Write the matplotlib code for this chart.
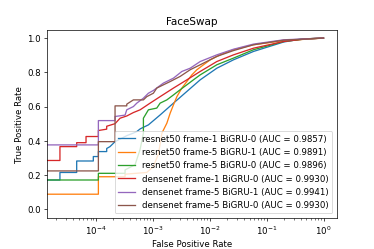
import matplotlib
matplotlib.use('Agg')
import matplotlib.pyplot as plt

# ROC points (fpr, tpr), step corners included
labels = [
    'resnet50 frame-1 BiGRU-0 (AUC = 0.9857)',
    'resnet50 frame-5 BiGRU-1 (AUC = 0.9891)',
    'resnet50 frame-5 BiGRU-0 (AUC = 0.9896)',
    'densenet frame-1 BiGRU-0 (AUC = 0.9930)',
    'densenet frame-5 BiGRU-1 (AUC = 0.9941)',
    'densenet frame-5 BiGRU-0 (AUC = 0.9930)',
]

fpr_r50_f1_b0 = [0, 0, 2.32e-5, 2.32e-5, 4.57e-5, 4.57e-5, 8.96e-5, 8.96e-5, 1.10e-4, 1.10e-4,
                 1.54e-4, 1.54e-4, 1.76e-4, 2.16e-4, 2.65e-4, 3.47e-4, 4.54e-4, 5.21e-4, 6.0e-4,
                 8.34e-4, 1.34e-3, 2.30e-3, 3.95e-3, 6.78e-3, 1.33e-2, 2.61e-2, 5.88e-2, 0.199, 0.391, 1.0]
tpr_r50_f1_b0 = [0, 0.171, 0.171, 0.215, 0.215, 0.282, 0.282, 0.308, 0.308, 0.337,
                 0.337, 0.355, 0.366, 0.395, 0.41, 0.43, 0.445, 0.454, 0.47,
                 0.493, 0.551, 0.620, 0.688, 0.756, 0.824, 0.873, 0.922, 0.977, 0.994, 1.0]

fpr_r50_f5_b1 = [0, 0, 1.10e-4, 1.10e-4, 3.24e-4, 3.24e-4, 7.81e-4, 1.02e-3, 1.24e-3, 1.34e-3,
                 1.44e-3, 1.76e-3, 2.01e-3, 2.30e-3, 2.64e-3, 3.23e-3, 3.95e-3, 4.84e-3, 5.93e-3,
                 7.75e-3, 1.02e-2, 1.52e-2, 2.61e-2, 5.88e-2, 0.199, 1.0]
tpr_r50_f5_b1 = [0, 0.088, 0.088, 0.19, 0.19, 0.205, 0.215, 0.25, 0.32, 0.38,
                 0.445, 0.503, 0.561, 0.610, 0.658, 0.708, 0.746, 0.785, 0.815,
                 0.844, 0.873, 0.902, 0.932, 0.961, 0.985, 1.0]

fpr_r50_f5_b0 = [0, 0, 1.10e-4, 1.10e-4, 3.24e-4, 3.24e-4, 4.86e-4, 5.96e-4, 6.81e-4, 6.81e-4,
                 8.34e-4, 1.17e-3, 1.34e-3, 1.76e-3, 2.30e-3, 3.01e-3, 3.95e-3, 5.16e-3, 6.78e-3,
                 1.33e-2, 2.61e-2, 5.88e-2, 0.199, 0.513, 1.0]
tpr_r50_f5_b0 = [0, 0.171, 0.171, 0.21, 0.21, 0.23, 0.26, 0.35, 0.445, 0.532,
                 0.581, 0.591, 0.620, 0.639, 0.668, 0.698, 0.727, 0.756, 0.785,
                 0.844, 0.883, 0.932, 0.980, 0.996, 1.0]

fpr_dn_f1_b0 = [0, 0, 2.32e-5, 2.32e-5, 4.57e-5, 4.57e-5, 6.67e-5, 6.67e-5, 1.10e-4, 1.10e-4,
                1.54e-4, 1.54e-4, 2.16e-4, 2.65e-4, 3.47e-4, 4.54e-4, 5.96e-4, 8.93e-4, 1.34e-3,
                2.30e-3, 3.95e-3, 6.78e-3, 1.33e-2, 2.61e-2, 5.88e-2, 0.199, 0.513, 1.0]
tpr_dn_f1_b0 = [0, 0.285, 0.285, 0.366, 0.366, 0.389, 0.389, 0.425, 0.425, 0.460,
                0.468, 0.485, 0.50, 0.532, 0.545, 0.565, 0.581, 0.620, 0.658,
                0.708, 0.756, 0.805, 0.863, 0.902, 0.941, 0.980, 0.996, 1.0]

fpr_dn_f5_b1 = [0, 0, 1.10e-4, 1.10e-4, 2.16e-4, 2.16e-4, 3.24e-4, 3.47e-4, 4.54e-4, 5.21e-4,
                6.81e-4, 8.34e-4, 1.02e-3, 1.53e-3, 2.30e-3, 3.23e-3, 4.52e-3, 6.78e-3, 1.33e-2,
                2.61e-2, 5.88e-2, 0.199, 1.0]
tpr_dn_f5_b1 = [0, 0.376, 0.376, 0.518, 0.518, 0.542, 0.55, 0.581, 0.600, 0.620,
                0.649, 0.678, 0.694, 0.737, 0.766, 0.805, 0.824, 0.863, 0.902,
                0.935, 0.965, 0.990, 1.0]

fpr_dn_f5_b0 = [0, 0, 1.10e-4, 1.10e-4, 2.16e-4, 2.16e-4, 3.47e-4, 3.47e-4, 4.54e-4, 6.81e-4,
                7.81e-4, 1.02e-3, 1.17e-3, 1.53e-3, 2.01e-3, 3.01e-3, 4.52e-3, 6.78e-3, 1.33e-2,
                2.61e-2, 5.88e-2, 0.199, 1.0]
tpr_dn_f5_b0 = [0, 0.224, 0.224, 0.395, 0.395, 0.604, 0.604, 0.614, 0.639, 0.639,
                0.658, 0.678, 0.708, 0.727, 0.746, 0.776, 0.815, 0.844, 0.893,
                0.927, 0.961, 0.988, 1.0]

curves = [
    (fpr_r50_f1_b0, tpr_r50_f1_b0),
    (fpr_r50_f5_b1, tpr_r50_f5_b1),
    (fpr_r50_f5_b0, tpr_r50_f5_b0),
    (fpr_dn_f1_b0, tpr_dn_f1_b0),
    (fpr_dn_f5_b1, tpr_dn_f5_b1),
    (fpr_dn_f5_b0, tpr_dn_f5_b0),
]

fig, ax = plt.subplots(figsize=(6, 4), dpi=62.35)
fig.subplots_adjust(left=0.125, right=0.9, top=0.88, bottom=0.125)

for (fpr, tpr), lab in zip(curves, labels):
    ax.plot(fpr, tpr, lw=1.5, label=lab)

ax.set_xscale('log')
ax.set_xlabel('False Positive Rate')
ax.set_ylabel('True Positive Rate')
ax.set_title('FaceSwap')
ax.legend(loc='lower right')

plt.savefig('out.png', dpi=62.35)
